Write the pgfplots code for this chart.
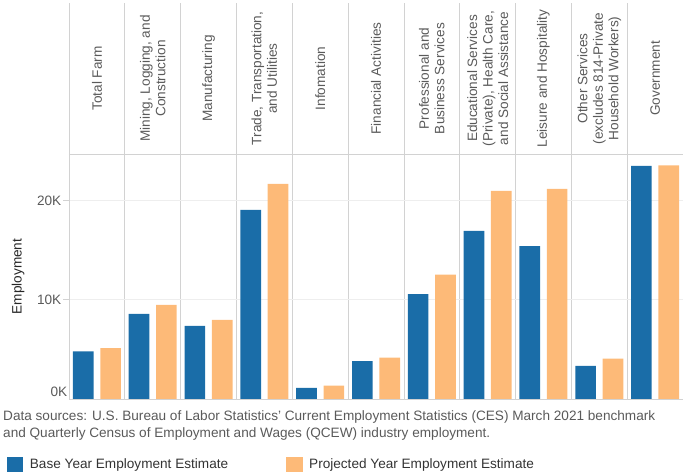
\documentclass[border=0pt]{standalone}
\usepackage{pgfplots}
\usepackage{pgfplotstable}
\usepackage{fontspec}
\setmainfont{Liberation Sans}
\pgfplotsset{compat=1.18}
\definecolor{baseblue}{HTML}{1A6DA8}
\definecolor{projorange}{HTML}{FDBA78}
\definecolor{hdrtxt}{HTML}{5A5A5A}
\definecolor{sepline}{HTML}{D2D2D2}
\definecolor{faint}{HTML}{EEEEEE}
\pgfplotstableread{
x base proj
0 4790 5130
1 8590 9500
2 7380 7980
3 19060 21680
4 1110 1340
5 3830 4160
6 10570 12550
7 16950 20980
8 15410 21180
9 3350 4060
10 23500 23560
}\data
\newcommand{\fs}{\fontsize{13.6bp}{15.5bp}\selectfont}
\begin{document}
\begin{tikzpicture}
\useasboundingbox (-69bp,-74bp) rectangle (614bp,399bp);
% header axis
\begin{axis}[
  at={(0bp,245bp)}, anchor=south west,
  scale only axis, width=614bp, height=151bp,
  xmin=-0.5, xmax=10.5, ymin=0, ymax=1,
  axis line style={draw=none},
  xtick={0.5,1.5,...,9.5}, xticklabels={},
  ytick=\empty,
  xmajorgrids, x grid style={sepline, line width=0.8bp},
  tick style={draw=none},
  clip=false,
]
\draw[sepline, line width=0.8bp] (rel axis cs:0,0) -- (rel axis cs:0,1);
\begin{scope}[every node/.style={rotate=90, align=center, font=\fs, text=hdrtxt, anchor=center}]
\node at (axis cs:0,0.5) {Total Farm};
\node at (axis cs:1,0.5) {Mining, Logging, and\\Construction};
\node at (axis cs:2,0.5) {Manufacturing};
\node at (axis cs:3,0.5) {Trade, Transportation,\\and Utilities};
\node at (axis cs:4,0.5) {Infomation};
\node at (axis cs:5,0.5) {Financial Activities};
\node at (axis cs:6,0.5) {Professional and\\Business Services};
\node at (axis cs:7,0.5) {Educational Services\\(Private), Health Care,\\and Social Assistance};
\node at (axis cs:8,0.5) {Leisure and Hospitality};
\node at (axis cs:9,0.5) {Other Services\\(excludes 814-Private\\Household Workers)};
\node at (axis cs:10,0.5) {Government};
\end{scope}
\end{axis}
% main axis
\begin{axis}[
  at={(0bp,0bp)}, anchor=south west,
  scale only axis, width=614bp, height=245bp,
  xmin=-0.5, xmax=10.5, ymin=0, ymax=24700,
  axis line style={draw=none},
  xtick={0.5,1.5,...,9.5}, xticklabels={},
  xmajorgrids, x grid style={sepline, line width=0.8bp},
  scaled y ticks=false,
  ytick={10000,20000}, yticklabels={10K,20K},
  extra y ticks={0}, extra y tick labels={0K},
  extra y tick style={major tick length=0bp, yticklabel style={yshift=7bp}, ymajorgrids=false},
  ymajorgrids, y grid style={faint, line width=0.8bp},
  xtick style={draw=none},
  ytick style={sepline, line width=0.8bp},
  tick align=outside, major tick length=6bp,
  yticklabel style={font=\fs, text=hdrtxt, inner sep=1.5bp},
  /pgf/number format/assume math mode=true,
  legend style={draw=none, fill=none, inner sep=0pt, font=\fs, text=black!80,
    nodes={inner sep=0pt},
    at={([xshift=-62.3bp, yshift=-65bp]axis description cs:0,0)}, anchor=west,
    legend columns=2, /tikz/every even column/.append style={column sep=58bp}},
  legend cell align=left,
  legend image code/.code={\path[#1, draw=none] (0bp,-7.5bp) rectangle (16.5bp,7.5bp); \path (23bp,0bp);},
  clip=false,
]
\addplot[ybar, bar width=0.37, bar shift=-0.245, fill=baseblue, draw=none] table[x=x, y=base]{\data};
\addlegendentry{Base Year Employment Estimate}
\addplot[ybar, bar width=0.37, bar shift=0.245, fill=projorange, draw=none] table[x=x, y=proj]{\data};
\addlegendentry{Projected Year Employment Estimate}
\draw[sepline, line width=0.8bp] (rel axis cs:0,0) -- (rel axis cs:0,1);
\draw[sepline, line width=0.8bp] (rel axis cs:0,1) -- (rel axis cs:1,1);
\draw[sepline, line width=0.8bp] (rel axis cs:0,0) -- (rel axis cs:1,0);
\end{axis}
\node[rotate=90, font=\fs, text=black!85] at (-51bp,122.5bp) {Employment};
\node[anchor=base west, font=\fs, text=hdrtxt, inner sep=0pt] at (-66bp,-21bp) {Data sources: U.S. Bureau of Labor Statistics' Current Employment Statistics (CES) March 2021 benchmark};
\node[anchor=base west, font=\fs, text=hdrtxt, inner sep=0pt] at (-66bp,-38bp) {and Quarterly Census of Employment and Wages (QCEW) industry employment.};
\end{tikzpicture}
\end{document}
